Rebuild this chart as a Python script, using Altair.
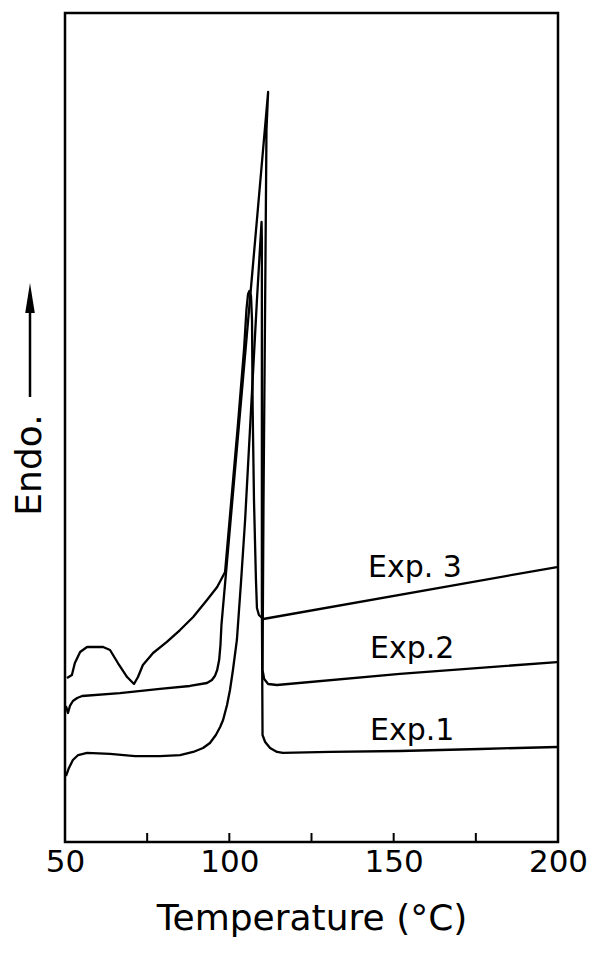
import altair as alt
import pandas as pd

# Temperature (°C) and heat-flow signal (arbitrary units, endo up)
exp1_T = [50.3, 51.2, 52.4, 54.0, 56.7, 63.7, 71.3, 78.9, 85.0, 89.0, 92.0, 94.1, 95.9, 97.2, 98.1,
          99.3, 100.2, 101.1, 102.3, 103.6, 104.8, 105.7, 106.6, 107.5, 108.4, 109.2, 109.8,
          109.9, 109.9, 109.9, 110.1, 110.9, 112.4, 114.5, 116.3, 130.6, 151.9, 176.3, 199.7]
exp1_S = [7.96, 8.93, 9.89, 10.49, 10.74, 10.62, 10.37, 10.37, 10.49, 10.86, 11.34, 11.94, 12.91, 13.87, 14.72,
          16.53, 18.34, 20.75, 24.37, 31.61, 38.84, 45.48, 52.11, 58.75, 65.38, 70.81, 74.79,
          72.62, 53.32, 29.19, 12.91, 12.06, 11.34, 10.86, 10.74, 10.86, 10.98, 11.22, 11.46]

exp2_T = [50.3, 50.9, 51.5, 52.4, 53.7, 55.2, 66.7, 78.9, 88.0, 93.2, 94.7, 95.6, 96.3, 96.9, 97.3, 97.6,
          111.8, 111.3, 110.9, 110.4, 110.1, 110.6, 111.8, 114.5, 151.9, 199.7]
exp2_S = [16.41, 15.56, 16.41, 17.01, 17.37, 17.61, 17.97, 18.46, 18.82, 19.18, 19.54, 20.02, 20.75, 21.95, 23.76, 26.18,
          90.47, 85.89, 65.38, 41.25, 20.75, 19.66, 19.06, 18.94, 20.27, 21.71]

exp3_T = [50.6, 52.1, 53.0, 54.6, 56.7, 61.6, 63.7, 66.1, 68.9, 71.0, 72.2, 73.7, 76.8, 81.0, 85.0, 89.0,
          93.2, 96.3, 98.7, 102.6, 104.5, 105.2, 105.7, 106.1, 106.6, 106.9, 107.1, 107.5, 108.1, 108.4,
          109.0, 110.3, 199.7]
exp3_S = [19.78, 20.15, 21.59, 22.92, 23.52, 23.52, 23.16, 21.59, 19.90, 19.06, 19.90, 21.35, 22.80, 24.13, 25.57, 27.14,
          29.19, 30.76, 32.57, 50.30, 59.59, 64.18, 66.11, 66.47, 65.86, 62.97, 52.11, 41.25, 31.61, 28.23,
          27.38, 26.90, 33.17]

series_names = ["Exp.1", "Exp.2", "Exp.3"]
label_text = ["Exp.1", "Exp.2", "Exp. 3"]
label_T = [142.8, 142.8, 142.2]
label_S = [12.3, 22.2, 32.0]

minor_ticks = [75, 100, 125, 150, 175]
axis_labels = [50, 100, 150, 200]

rows = []
for name, ts, ss in zip(series_names, [exp1_T, exp2_T, exp3_T], [exp1_S, exp2_S, exp3_S]):
    for i, (t, s) in enumerate(zip(ts, ss)):
        rows.append({"series": name, "idx": i, "T": t, "S": s})
df = pd.DataFrame(rows)
lab = pd.DataFrame({"text": label_text, "T": label_T, "S": label_S})
ticks = pd.DataFrame({"T": minor_ticks})

FONT = "DejaVu Sans"
xscale = alt.Scale(domain=[50, 200], nice=False, zero=False)
yscale = alt.Scale(domain=[0, 100], nice=False, zero=False)

lines = alt.Chart(df).mark_line(color="black", strokeWidth=2.3, strokeJoin="round").encode(
    x=alt.X("T:Q", scale=xscale,
            axis=alt.Axis(values=axis_labels, grid=False, ticks=False, domain=False,
                          labelFontSize=31, labelFont=FONT, labelColor="black", labelPadding=5,
                          labelFlush=False, title="Temperature (°C)", titleFont=FONT,
                          titleFontSize=36, titleFontWeight="normal", titleColor="black",
                          titlePadding=24)),
    y=alt.Y("S:Q", scale=yscale, axis=None),
    detail="series:N",
    order="idx:Q",
)

labels = alt.Chart(lab).mark_text(align="left", baseline="alphabetic", font=FONT, fontSize=30,
                                  color="black").encode(
    x=alt.X("T:Q", scale=xscale), y=alt.Y("S:Q", scale=yscale), text="text:N")

tickmarks = alt.Chart(ticks).mark_rule(color="black", strokeWidth=2).encode(
    x=alt.X("T:Q", scale=xscale), y=alt.value(829), y2=alt.value(820))

deco = pd.DataFrame({"k": [0]})
endo = alt.Chart(deco).mark_text(text="Endo.", angle=270, align="center", baseline="middle",
                                 font=FONT, fontSize=36, color="black").encode(
    x=alt.value(-35), y=alt.value(452))
arrow_line = alt.Chart(deco).mark_rule(color="black", strokeWidth=2.5).encode(
    x=alt.value(-35), y=alt.value(384), y2=alt.value(297))
arrow_head = alt.Chart(deco).mark_point(shape="M0,-1L0.32,1L-0.32,1Z", filled=True, size=900,
                                        color="black", opacity=1).encode(
    x=alt.value(-35), y=alt.value(285))

chart = alt.layer(lines, labels, tickmarks, endo, arrow_line, arrow_head).properties(
    width=493, height=829,
    autosize=alt.AutoSizeParams(type="none"),
    padding={"left": 57, "top": 5, "right": 30, "bottom": 110},
).configure_view(stroke="black", strokeWidth=2.5)

chart.save("out.html", embed_options={"renderer": "svg", "actions": False})
